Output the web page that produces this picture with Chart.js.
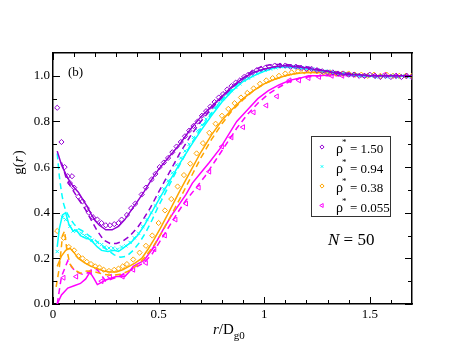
<!DOCTYPE html>
<html>
<head>
<meta charset="UTF-8">
<title>g(r)</title>
<script src="https://cdn.jsdelivr.net/npm/chart.js/dist/chart.umd.min.js"></script>
<style>
  html, body { margin: 0; padding: 0; background: #fff; }
</style>
</head>
<body>
<canvas id="gofr" width="463" height="358"></canvas>
<script>
// ---- data: [r/Dg0, g(r)] ----
const rho150pts = [[0.02,0.86],[0.04,0.71],[0.055,0.60],[0.07,0.56],[0.09,0.56],[0.08,0.53],[0.10,0.51],[0.12,0.47],[0.14,0.45],[0.16,0.42],[0.17,0.40],[0.19,0.38],[0.21,0.37],[0.23,0.355],[0.25,0.345],[0.27,0.345],[0.29,0.35],[0.31,0.355],[0.325,0.37],[0.35,0.39],[0.37,0.42],[0.39,0.44],[0.42,0.48],[0.44,0.51],[0.467,0.546],[0.485,0.57],[0.505,0.60],[0.525,0.62],[0.545,0.64],[0.565,0.665],[0.585,0.69],[0.605,0.71],[0.625,0.735],[0.645,0.76],[0.665,0.78],[0.685,0.80],[0.705,0.825],[0.725,0.845],[0.745,0.865],[0.765,0.885],[0.785,0.905],[0.805,0.92],[0.825,0.94],[0.845,0.955],[0.865,0.97],[0.885,0.98],[0.905,0.995],[0.925,1.005],[0.945,1.015],[0.965,1.025],[0.985,1.03],[1.005,1.035],[1.025,1.04],[1.05,1.045],[1.075,1.045],[1.10,1.045],[1.125,1.04],[1.15,1.04],[1.175,1.035],[1.20,1.03],[1.225,1.03],[1.25,1.025],[1.275,1.02],[1.30,1.015],[1.325,1.015],[1.35,1.01],[1.375,1.01],[1.40,1.005],[1.425,1.005],[1.45,1.0],[1.475,1.0],[1.50,1.005],[1.525,1.0],[1.55,0.995],[1.575,1.0],[1.60,0.995],[1.625,1.0],[1.65,0.995],[1.675,1.0],[1.70,0.995]];
const rho150solid = [[0.02,0.67],[0.04,0.61],[0.06,0.57],[0.08,0.535],[0.10,0.51],[0.12,0.49],[0.14,0.46],[0.16,0.43],[0.18,0.395],[0.20,0.365],[0.22,0.345],[0.25,0.325],[0.28,0.325],[0.31,0.34],[0.34,0.37],[0.37,0.41],[0.40,0.45],[0.43,0.49],[0.46,0.535],[0.50,0.59],[0.55,0.645],[0.60,0.70],[0.65,0.765],[0.70,0.82],[0.75,0.865],[0.80,0.91],[0.85,0.955],[0.90,0.99],[0.95,1.015],[1.00,1.03],[1.05,1.04],[1.10,1.045],[1.15,1.04],[1.20,1.035],[1.25,1.025],[1.30,1.02],[1.35,1.01],[1.40,1.005],[1.45,1.005],[1.50,1.0],[1.55,1.0],[1.60,1.0],[1.65,1.0],[1.70,1.0]];
const rho150dash = [[0.04,0.62],[0.06,0.56],[0.08,0.52],[0.10,0.49],[0.12,0.46],[0.15,0.42],[0.18,0.37],[0.21,0.32],[0.24,0.28],[0.27,0.265],[0.30,0.265],[0.33,0.275],[0.36,0.295],[0.40,0.335],[0.43,0.375],[0.46,0.42],[0.50,0.49],[0.55,0.575],[0.60,0.66],[0.65,0.735],[0.70,0.80],[0.75,0.855],[0.80,0.905],[0.85,0.95],[0.90,0.99],[0.95,1.025],[1.00,1.045],[1.05,1.05],[1.10,1.05],[1.15,1.045],[1.20,1.04],[1.25,1.03],[1.30,1.02],[1.35,1.015],[1.40,1.01],[1.45,1.005],[1.50,1.0],[1.60,1.0],[1.70,1.0]];

const rho094pts = [[0.02,0.23],[0.045,0.38],[0.06,0.37],[0.08,0.34],[0.095,0.32],[0.11,0.32],[0.135,0.31],[0.15,0.30],[0.165,0.29],[0.185,0.28],[0.21,0.27],[0.23,0.26],[0.245,0.25],[0.265,0.245],[0.285,0.245],[0.305,0.24],[0.325,0.25],[0.345,0.255],[0.365,0.27],[0.385,0.29],[0.405,0.31],[0.425,0.34],[0.445,0.37],[0.465,0.40],[0.485,0.43],[0.505,0.47],[0.525,0.505],[0.545,0.54],[0.565,0.575],[0.585,0.61],[0.605,0.64],[0.625,0.67],[0.645,0.70],[0.665,0.73],[0.685,0.76],[0.705,0.785],[0.725,0.81],[0.745,0.835],[0.765,0.86],[0.785,0.88],[0.805,0.90],[0.825,0.92],[0.845,0.935],[0.865,0.95],[0.885,0.965],[0.905,0.98],[0.925,0.99],[0.945,1.0],[0.965,1.01],[0.985,1.02],[1.005,1.025],[1.03,1.03],[1.055,1.035],[1.08,1.04],[1.105,1.04],[1.13,1.04],[1.155,1.04],[1.18,1.035],[1.205,1.035],[1.23,1.03],[1.255,1.025],[1.28,1.02],[1.305,1.02],[1.33,1.015],[1.355,1.01],[1.38,1.01],[1.405,1.005],[1.43,1.005],[1.455,1.0],[1.48,1.0],[1.505,1.0],[1.53,0.995],[1.555,1.0],[1.58,0.995],[1.605,1.0],[1.63,0.995],[1.655,1.0],[1.68,0.995]];
const rho094solid = [[0.02,0.25],[0.03,0.33],[0.045,0.39],[0.06,0.40],[0.075,0.35],[0.095,0.32],[0.11,0.325],[0.13,0.30],[0.15,0.29],[0.17,0.285],[0.19,0.27],[0.21,0.25],[0.23,0.235],[0.26,0.23],[0.29,0.235],[0.31,0.23],[0.34,0.25],[0.37,0.27],[0.40,0.30],[0.43,0.34],[0.46,0.39],[0.50,0.455],[0.55,0.535],[0.60,0.615],[0.65,0.69],[0.70,0.76],[0.75,0.825],[0.80,0.885],[0.85,0.935],[0.90,0.975],[0.95,1.0],[1.00,1.02],[1.05,1.035],[1.10,1.04],[1.15,1.035],[1.20,1.03],[1.25,1.025],[1.30,1.02],[1.35,1.01],[1.40,1.005],[1.45,1.0],[1.50,1.0],[1.60,1.0],[1.70,1.0]];
const rho094dash = [[0.02,0.66],[0.03,0.56],[0.04,0.49],[0.05,0.44],[0.06,0.41],[0.08,0.375],[0.10,0.35],[0.12,0.33],[0.14,0.32],[0.17,0.30],[0.20,0.28],[0.23,0.255],[0.26,0.235],[0.29,0.215],[0.32,0.205],[0.35,0.21],[0.38,0.235],[0.41,0.27],[0.44,0.315],[0.47,0.37],[0.50,0.43],[0.55,0.52],[0.60,0.61],[0.65,0.695],[0.70,0.77],[0.75,0.835],[0.80,0.895],[0.85,0.945],[0.90,0.985],[0.95,1.015],[1.00,1.03],[1.05,1.04],[1.10,1.045],[1.15,1.04],[1.20,1.035],[1.25,1.025],[1.30,1.02],[1.35,1.01],[1.40,1.005],[1.50,1.0],[1.60,1.0],[1.70,1.0]];

const rho038pts = [[0.02,0.32],[0.05,0.29],[0.075,0.25],[0.10,0.235],[0.12,0.21],[0.14,0.20],[0.16,0.185],[0.18,0.175],[0.20,0.165],[0.22,0.16],[0.24,0.15],[0.265,0.145],[0.29,0.15],[0.31,0.155],[0.33,0.165],[0.35,0.175],[0.38,0.195],[0.41,0.225],[0.44,0.255],[0.47,0.30],[0.50,0.355],[0.53,0.41],[0.56,0.46],[0.59,0.515],[0.62,0.565],[0.65,0.615],[0.68,0.66],[0.71,0.705],[0.74,0.75],[0.77,0.79],[0.80,0.825],[0.83,0.855],[0.86,0.88],[0.89,0.905],[0.92,0.925],[0.95,0.945],[0.98,0.965],[1.01,0.98],[1.04,0.99],[1.07,1.0],[1.10,1.01],[1.13,1.015],[1.16,1.02],[1.19,1.02],[1.22,1.02],[1.25,1.02],[1.28,1.015],[1.31,1.015],[1.34,1.01],[1.37,1.01],[1.40,1.01],[1.43,1.005],[1.46,1.005],[1.49,1.0],[1.52,1.005],[1.55,1.0],[1.58,1.005],[1.61,1.0],[1.64,1.0],[1.67,1.0],[1.70,1.0]];
const rho038solid = [[0.02,0.165],[0.04,0.21],[0.06,0.235],[0.08,0.245],[0.10,0.225],[0.12,0.20],[0.15,0.18],[0.18,0.165],[0.21,0.155],[0.24,0.145],[0.27,0.14],[0.30,0.14],[0.33,0.15],[0.36,0.165],[0.39,0.18],[0.42,0.20],[0.45,0.24],[0.48,0.285],[0.51,0.335],[0.55,0.405],[0.60,0.495],[0.65,0.58],[0.70,0.665],[0.75,0.74],[0.80,0.805],[0.85,0.855],[0.90,0.90],[0.95,0.935],[1.00,0.965],[1.05,0.985],[1.10,1.0],[1.15,1.01],[1.20,1.015],[1.25,1.015],[1.30,1.015],[1.35,1.01],[1.40,1.01],[1.45,1.005],[1.50,1.0],[1.60,1.0],[1.70,1.0]];
const rho038dash = [[0.015,0.075],[0.03,0.16],[0.045,0.30],[0.055,0.32],[0.065,0.24],[0.08,0.175],[0.10,0.15],[0.13,0.135],[0.16,0.145],[0.20,0.14],[0.24,0.13],[0.28,0.125],[0.32,0.13],[0.36,0.145],[0.40,0.17],[0.44,0.21],[0.48,0.26],[0.52,0.32],[0.56,0.39],[0.60,0.46],[0.65,0.55],[0.70,0.64],[0.75,0.72],[0.80,0.79],[0.85,0.85],[0.90,0.895],[0.95,0.935],[1.00,0.965],[1.05,0.985],[1.10,1.0],[1.15,1.01],[1.20,1.015],[1.30,1.015],[1.40,1.01],[1.50,1.0],[1.60,1.0],[1.70,1.0]];

const rho0055pts = [[0.05,0.115],[0.11,0.12],[0.175,0.14],[0.23,0.10],[0.27,0.12],[0.33,0.12],[0.38,0.15],[0.44,0.18],[0.48,0.24],[0.53,0.30],[0.58,0.37],[0.63,0.44],[0.69,0.51],[0.74,0.58],[0.80,0.69],[0.845,0.73],[0.90,0.775],[0.95,0.84],[1.01,0.87],[1.06,0.91],[1.12,0.98],[1.165,0.98],[1.21,0.99],[1.26,0.995],[1.32,1.0],[1.37,1.0],[1.42,1.005],[1.47,1.0],[1.52,1.0],[1.57,1.005],[1.62,1.0],[1.67,1.0]];
const rho0055solid = [[0.02,0.0],[0.04,0.04],[0.07,0.07],[0.10,0.08],[0.13,0.09],[0.155,0.11],[0.175,0.14],[0.195,0.11],[0.21,0.085],[0.23,0.095],[0.25,0.105],[0.28,0.115],[0.30,0.12],[0.34,0.12],[0.36,0.14],[0.38,0.165],[0.41,0.18],[0.43,0.19],[0.47,0.24],[0.50,0.29],[0.53,0.34],[0.57,0.40],[0.60,0.44],[0.63,0.48],[0.66,0.53],[0.70,0.575],[0.74,0.62],[0.79,0.68],[0.83,0.74],[0.87,0.80],[0.93,0.86],[0.97,0.90],[1.02,0.935],[1.07,0.96],[1.12,0.98],[1.17,0.99],[1.21,1.0],[1.26,1.0],[1.32,1.005],[1.40,1.005],[1.50,1.0],[1.60,1.0],[1.70,1.0]];
const rho0055dash = [[0.02,0.0],[0.04,0.12],[0.07,0.19],[0.09,0.16],[0.11,0.14],[0.14,0.13],[0.16,0.135],[0.19,0.15],[0.21,0.15],[0.25,0.10],[0.28,0.11],[0.31,0.12],[0.35,0.14],[0.39,0.16],[0.43,0.18],[0.47,0.22],[0.51,0.28],[0.55,0.34],[0.59,0.40],[0.63,0.455],[0.67,0.50],[0.72,0.56],[0.77,0.63],[0.82,0.70],[0.87,0.77],[0.92,0.83],[0.97,0.88],[1.02,0.92],[1.07,0.95],[1.12,0.975],[1.17,0.99],[1.25,1.0],[1.35,1.0],[1.50,1.0],[1.70,1.0]];

const legendVals = ['1.50', '0.94', '0.38', '0.055'];
const xMajor = [0, 0.5, 1, 1.5];
const xMinor = [0.1,0.2,0.3,0.4,0.6,0.7,0.8,0.9,1.1,1.2,1.3,1.4,1.6];
const yMajor = [0, 0.2, 0.4, 0.6, 0.8, 1.0];
const yMinor = [0.1, 0.3, 0.5, 0.7, 0.9];

const VIOLET = '#9400d3', CYAN = '#00ffff', ORANGE = '#ffa500', MAGENTA = '#ff00ff';
const SERIF = '"Liberation Serif", "DejaVu Serif", serif';

function toXY(arr) { return arr.map(p => ({x: p[0], y: p[1]})); }

function lineSet(pts, color, dashed) {
  return {
    data: toXY(pts), showLine: true, borderColor: color, borderWidth: 1.5,
    borderDash: dashed ? [6, 4] : [], pointRadius: 0, pointHoverRadius: 0,
    tension: 0, fill: false
  };
}
function markSet(pts, color, style, radius, rot) {
  return {
    data: toXY(pts), showLine: false, borderColor: color, backgroundColor: 'rgba(0,0,0,0)',
    pointStyle: style, pointRadius: radius, pointBorderWidth: 1, pointRotation: rot || 0,
    pointBackgroundColor: 'rgba(0,0,0,0)', pointBorderColor: color
  };
}

const markerStyles = [
  {style: 'rectRot', color: VIOLET, r: 2.6, rot: 0},
  {style: 'crossRot', color: CYAN, r: 2.3, rot: 0},
  {style: 'rectRot', color: ORANGE, r: 2.6, rot: 0},
  {style: 'triangle', color: MAGENTA, r: 2.8, rot: -90}
];

// inward ticks on all four sides + texts + legend box
const frameDecor = {
  id: 'frameDecor',
  afterDraw(chart) {
    const {ctx, chartArea: a, scales} = chart;
    const sx = scales.x, sy = scales.y;
    ctx.save();
    ctx.strokeStyle = '#000';
    ctx.lineWidth = 1;
    ctx.beginPath();
    const xt = (v, len) => {
      const px = Math.round(sx.getPixelForValue(v)) + 0.5;
      ctx.moveTo(px, a.bottom); ctx.lineTo(px, a.bottom - len);
      ctx.moveTo(px, a.top); ctx.lineTo(px, a.top + len);
    };
    const yt = (v, len) => {
      const py = Math.round(sy.getPixelForValue(v)) + 0.5;
      ctx.moveTo(a.left, py); ctx.lineTo(a.left + len, py);
      ctx.moveTo(a.right, py); ctx.lineTo(a.right - len, py);
    };
    xMajor.forEach(v => xt(v, 7));
    xMinor.forEach(v => xt(v, 4));
    yMajor.forEach(v => yt(v, 7));
    yMinor.forEach(v => yt(v, 4));
    ctx.stroke();

    // (b)
    ctx.fillStyle = '#000';
    ctx.textBaseline = 'alphabetic';
    ctx.textAlign = 'left';
    ctx.font = '13px ' + SERIF;
    ctx.fillText('(b)', 68, 76);

    // N = 50
    ctx.font = 'italic 17px ' + SERIF;
    ctx.fillText('N', 328, 245);
    let w = ctx.measureText('N').width;
    ctx.font = '17px ' + SERIF;
    ctx.fillText(' = 50', 328 + w, 245);

    // x title: r/Dg0
    let x0 = 213;
    ctx.font = 'italic 15px ' + SERIF;
    ctx.fillText('r', x0, 334);
    x0 += ctx.measureText('r').width;
    ctx.font = '15px ' + SERIF;
    ctx.fillText('/D', x0, 334);
    x0 += ctx.measureText('/D').width;
    ctx.font = '11px ' + SERIF;
    ctx.fillText('g0', x0, 339);

    // y title: g(r)
    ctx.save();
    ctx.translate(23, 163);
    ctx.rotate(-Math.PI / 2);
    ctx.font = '15px ' + SERIF;
    const wg = ctx.measureText('g(').width, wp = ctx.measureText(')').width;
    ctx.font = 'italic 15px ' + SERIF;
    const wr = ctx.measureText('r').width;
    let s = -(wg + wr + wp) / 2;
    ctx.font = '15px ' + SERIF;
    ctx.fillText('g(', s, 0);
    ctx.font = 'italic 15px ' + SERIF;
    ctx.fillText('r', s + wg, 0);
    ctx.font = '15px ' + SERIF;
    ctx.fillText(')', s + wg + wr + 1, 0);
    ctx.restore();

    // legend box
    ctx.strokeStyle = '#333';
    ctx.lineWidth = 1;
    ctx.strokeRect(311.5, 136.5, 79, 80);
    legendVals.forEach((val, i) => {
      const y = 147 + i * 19.5;
      const m = markerStyles[i];
      ctx.save();
      ctx.strokeStyle = m.color;
      ctx.fillStyle = 'rgba(0,0,0,0)';
      ctx.lineWidth = 1;
      Chart.helpers.drawPoint(ctx, {pointStyle: m.style, radius: m.r - 0.5, rotation: m.rot, borderWidth: 1}, 322, y);
      ctx.restore();
      ctx.fillStyle = '#000';
      ctx.font = '14px ' + SERIF;
      ctx.fillText('\u03c1', 336, y + 6);
      ctx.font = '9px ' + SERIF;
      ctx.fillText('*', 342, y - 2);
      ctx.font = '13px ' + SERIF;
      ctx.fillText('= ' + val, 350, y + 6);
    });
    ctx.restore();
  }
};

const datasets = [
  lineSet(rho150solid, VIOLET, false), lineSet(rho150dash, VIOLET, true),
  markSet(rho150pts, VIOLET, 'rectRot', 2.6),
  lineSet(rho094solid, CYAN, false), lineSet(rho094dash, CYAN, true),
  markSet(rho094pts, CYAN, 'crossRot', 2.3),
  lineSet(rho038solid, ORANGE, false), lineSet(rho038dash, ORANGE, true),
  markSet(rho038pts, ORANGE, 'rectRot', 2.6),
  lineSet(rho0055solid, MAGENTA, false), lineSet(rho0055dash, MAGENTA, true),
  markSet(rho0055pts, MAGENTA, 'triangle', 2.8, -90)
];

const tickFont = {family: SERIF, size: 13};

new Chart(document.getElementById('gofr'), {
  type: 'scatter',
  data: {datasets: datasets},
  options: {
    responsive: false,
    animation: false,
    devicePixelRatio: 1,
    events: [],
    layout: {padding: {top: 53, right: 51, left: 0, bottom: 0}},
    plugins: {legend: {display: false}, tooltip: {enabled: false}},
    scales: {
      x: {
        type: 'linear', position: 'bottom', min: 0, max: 1.7,
        afterBuildTicks: s => { s.ticks = xMajor.map(v => ({value: v})); },
        afterFit: s => { s.height = 54; },
        ticks: {font: tickFont, color: '#000', padding: 3, maxRotation: 0, callback: v => String(v)},
        grid: {display: false, drawTicks: false},
        border: {display: true, color: '#000', width: 1.5}
      },
      y: {
        type: 'linear', position: 'left', min: 0, max: 1.1,
        afterBuildTicks: s => { s.ticks = yMajor.map(v => ({value: v})); },
        afterFit: s => { s.width = 53; },
        ticks: {font: tickFont, color: '#000', padding: 3, callback: v => v.toFixed(1)},
        grid: {display: false, drawTicks: false},
        border: {display: true, color: '#000', width: 1.5}
      },
      xTop: {
        type: 'linear', position: 'top', min: 0, max: 1.7,
        afterFit: s => { s.height = 0; },
        ticks: {display: false},
        grid: {display: false, drawTicks: false},
        border: {display: true, color: '#000', width: 1.5}
      },
      yRight: {
        type: 'linear', position: 'right', min: 0, max: 1.1,
        afterFit: s => { s.width = 0; },
        ticks: {display: false},
        grid: {display: false, drawTicks: false},
        border: {display: true, color: '#000', width: 1.5}
      }
    }
  },
  plugins: [frameDecor]
});
</script>
</body>
</html>
